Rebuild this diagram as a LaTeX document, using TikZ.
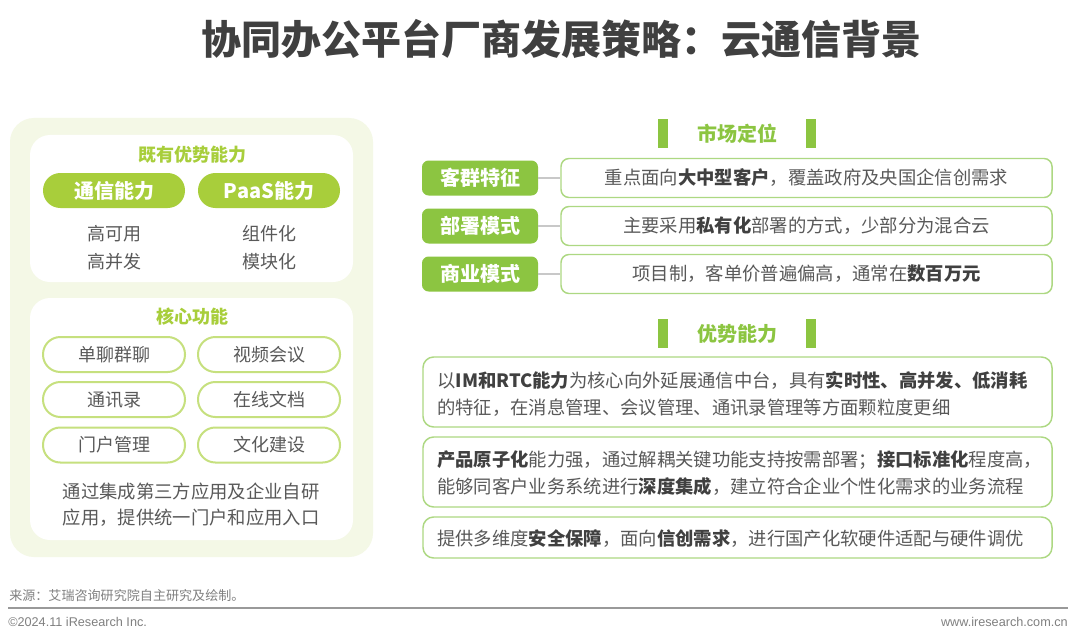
\documentclass[tikz,border=0pt]{standalone}
\usepackage{fontspec}
\setmainfont{Noto Sans CJK SC}
\newfontfamily\latinfont{Liberation Sans}
\definecolor{titlegray}{HTML}{404040}
\definecolor{bodygray}{HTML}{595959}
\definecolor{footgray}{HTML}{808080}
\definecolor{panelbg}{HTML}{F4F8E6}
\definecolor{pillgreen}{HTML}{A8CE3B}
\definecolor{pilledge}{HTML}{C6E07E}
\definecolor{labgreen}{HTML}{8CC541}
\definecolor{boxedge}{HTML}{ADD882}
\definecolor{conngray}{HTML}{C8C8C8}
\tikzset{
  body/.style={font=\fontsize{13.75}{16}\selectfont, text=bodygray, inner sep=0pt},
  fillpill/.style={fill=pillgreen, rounded corners=13pt, minimum width=106.5pt, minimum height=26.25pt, inner sep=0pt, text=white, font=\fontsize{15}{18}\selectfont\bfseries},
  linepill/.style={draw=pilledge, line width=1.5pt, fill=white, rounded corners=13pt, minimum width=106.5pt, minimum height=26.25pt, inner sep=0pt, text=bodygray, font=\fontsize{13.5}{16}\selectfont},
  labbox/.style={fill=labgreen, rounded corners=5pt, minimum width=87pt, minimum height=26.25pt, inner sep=0pt, text=white, font=\fontsize{15}{18}\selectfont\bfseries},
  contbox/.style={draw=boxedge, line width=1.1pt, fill=white, rounded corners=6pt, minimum width=368.25pt, minimum height=29.25pt, inner sep=0pt},
  widebox/.style={draw=boxedge, line width=1.1pt, fill=white, rounded corners=8pt, minimum width=471.75pt, inner sep=0pt},
  hbar/.style={fill=labgreen, minimum width=7.5pt, minimum height=21.75pt, inner sep=0pt},
  htext/.style={text=labgreen, font=\fontsize{15}{18}\selectfont\bfseries, inner sep=0pt},
  subhead/.style={text=pillgreen, font=\fontsize{13.5}{16}\selectfont\bfseries, inner sep=0pt},
  conn/.style={draw=conngray, line width=1pt},
}
\newcommand{\hb}[1]{{\bfseries\color{titlegray}#1}}
\begin{document}
\begin{tikzpicture}[x=0.75pt,y=-0.75pt]
\useasboundingbox (0,0) rectangle (1080,638);
\fill[white] (0,0) rectangle (1080,638);

% title
\node[inner sep=0pt, text=titlegray, font=\fontsize{30}{34}\selectfont\bfseries] (title) at (561,39) {协同办公平台厂商发展策略：云通信背景};

% left panel
\fill[panelbg, rounded corners=18pt] (10,118) rectangle (373,557);
\fill[white, rounded corners=15pt] (30,135) rectangle (353,282);
\fill[white, rounded corners=15pt] (30,298) rectangle (353,540);

\node[subhead] (h1) at (192,155) {既有优势能力};
\node[fillpill] (p1) at (114,190.5) {通信能力};
\node[fillpill] (p2) at (269,190.5) {PaaS能力};
\node[body, font=\fontsize{13.5}{16}\selectfont] (a1) at (114,234) {高可用};
\node[body, font=\fontsize{13.5}{16}\selectfont] (a2) at (114,262) {高并发};
\node[body, font=\fontsize{13.5}{16}\selectfont] (b1) at (269,234) {组件化};
\node[body, font=\fontsize{13.5}{16}\selectfont] (b2) at (269,262) {模块化};

\node[subhead] (h2) at (192,317) {核心功能};
\node[linepill] (f1) at (114,354.5) {单聊群聊};
\node[linepill] (f2) at (269,354.5) {视频会议};
\node[linepill] (f3) at (114,399.5) {通讯录};
\node[linepill] (f4) at (269,399.5) {在线文档};
\node[linepill] (f5) at (114,445) {门户管理};
\node[linepill] (f6) at (269,445) {文化建设};
\node[body, align=center, font=\fontsize{13.75}{19.5}\selectfont] (ft) at (191,505) {通过集成第三方应用及企业自研\\应用，提供统一门户和应用入口};

% right: market positioning
\node[hbar] (m1) at (663,133.5) {};
\node[hbar] (m2) at (811,133.5) {};
\node[htext] (mt) at (737,134) {市场定位};

\node[labbox] (l1) at (480,178) {客群特征};
\node[labbox] (l2) at (480,226) {部署模式};
\node[labbox] (l3) at (480,274) {商业模式};
\node[contbox] (c1) at (806.5,178) {};
\node[contbox] (c2) at (806.5,226) {};
\node[contbox] (c3) at (806.5,274) {};
\draw[conn] (l1.east) -- (c1.west);
\draw[conn] (l2.east) -- (c2.west);
\draw[conn] (l3.east) -- (c3.west);
\node[body] (t1) at (c1.center) {重点面向\hb{大中型客户}，覆盖政府及央国企信创需求};
\node[body] (t2) at (c2.center) {主要采用\hb{私有化}部署的方式，少部分为混合云};
\node[body] (t3) at (c3.center) {项目制，客单价普遍偏高，通常在\hb{数百万元}};

% right: advantages
\node[hbar] (n1) at (663,333.5) {};
\node[hbar] (n2) at (811,333.5) {};
\node[htext] (nt) at (737,334) {优势能力};

\node[widebox, minimum height=52.5pt] (d1) at (737.5,392) {};
\node[widebox, minimum height=52.5pt] (d2) at (737.5,472) {};
\node[widebox, minimum height=30.75pt] (d3) at (737.5,537.5) {};
\node[body, anchor=west, align=left, font=\fontsize{13.75}{20.25}\selectfont] (e1) at (437,393.5) {以\hb{IM和RTC能力}为核心向外延展通信中台，具有\hb{实时性、高并发、低消耗}\\的特征，在消息管理、会议管理、通讯录管理等方面颗粒度更细};
\node[body, anchor=west, align=left, font=\fontsize{13.75}{20.25}\selectfont] (e2) at (437,473.5) {\hb{产品原子化}能力强，通过解耦关键功能支持按需部署；\hb{接口标准化}程度高，\\能够同客户业务系统进行\hb{深度集成}，建立符合企业个性化需求的业务流程};
\node[body, anchor=west] (e3) at (437,539) {提供多维度\hb{安全保障}，面向\hb{信创需求}，进行国产化软硬件适配与硬件调优};

% footer
\node[anchor=west, inner sep=0pt, text=footgray, font=\fontsize{9.8}{11}\selectfont] (src) at (9,596) {来源：艾瑞咨询研究院自主研究及绘制。};
\coordinate (fl) at (8,608);
\coordinate (fr) at (1068,608);
\draw[draw=footgray!80, line width=0.8pt] (fl) -- (fr);
\node[anchor=west, inner sep=0pt, text=footgray, font=\latinfont\fontsize{9.5}{11}\selectfont] (cp) at (8,622) {©2024.11 iResearch Inc.};
\node[anchor=east, inner sep=0pt, text=footgray, font=\latinfont\fontsize{9.5}{11}\selectfont] (www) at (1068,622) {www.iresearch.com.cn};
\end{tikzpicture}
\end{document}
